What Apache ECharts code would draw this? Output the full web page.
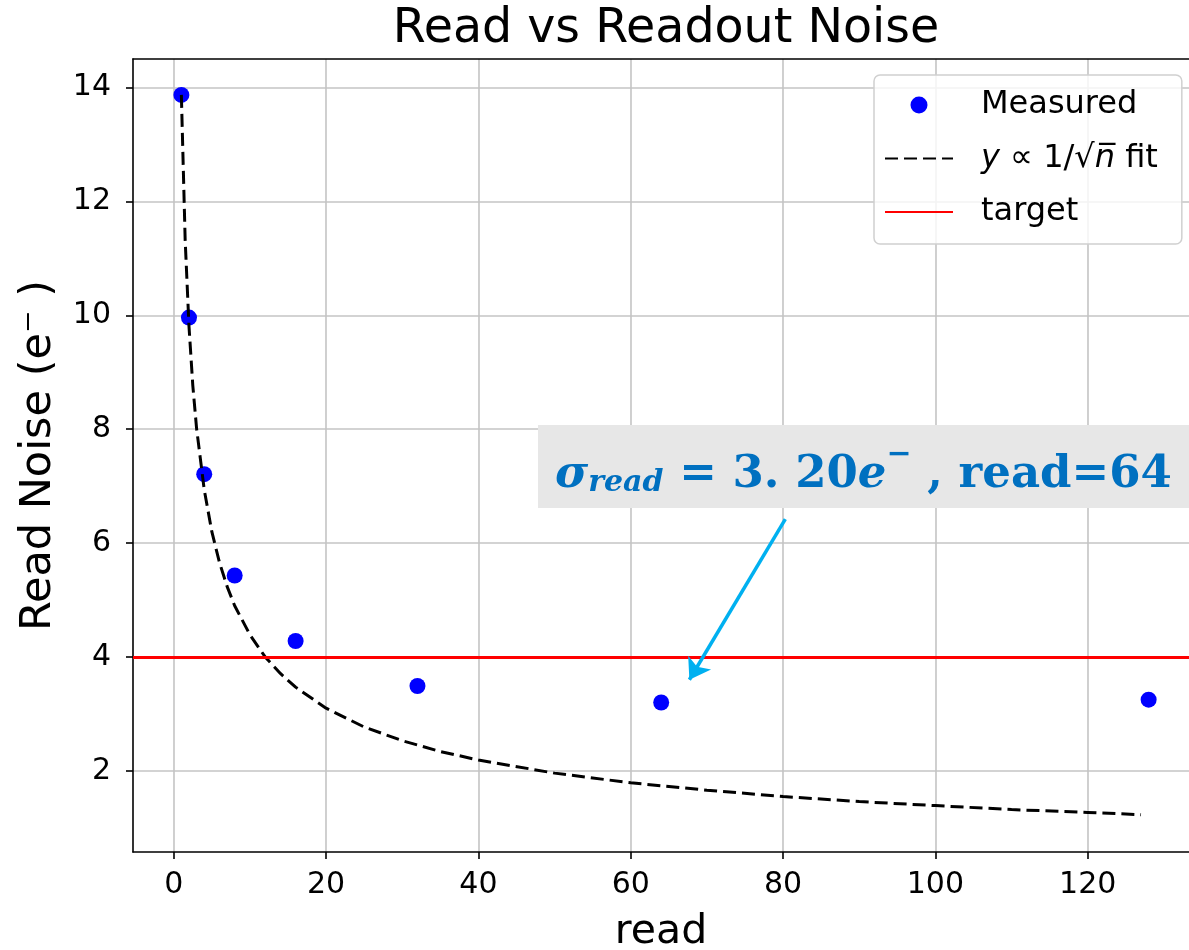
<!DOCTYPE html>
<html><head><meta charset="utf-8">
<script src="https://cdn.jsdelivr.net/npm/echarts@6/dist/echarts.min.js"></script>
<style>html,body{margin:0;padding:0;background:#fff}#c{width:1189px;height:950px}</style>
</head><body><div id="c"></div>
<script>
// ---- data ----
const reads = [1, 2, 4, 8, 16, 32, 64, 128];
const measuredNoise = [13.87, 9.96, 7.21, 5.43, 4.28, 3.49, 3.20, 3.25];
const fitReads = [1, 1.5, 2, 2.5, 3, 4, 5, 6, 7, 8, 10, 12, 14, 16, 20, 25, 30, 35, 40, 50, 60, 70, 80, 90, 100, 110, 120, 127];
const fitNoise = [13.87, 11.32, 9.81, 8.77, 8.01, 6.94, 6.20, 5.66, 5.24, 4.90, 4.39, 4.00, 3.71, 3.47, 3.10, 2.77, 2.53, 2.34, 2.19, 1.96, 1.79, 1.66, 1.55, 1.46, 1.39, 1.32, 1.27, 1.23];
const targetNoise = 4;
const xTicks = [0, 20, 40, 60, 80, 100, 120];
const yTicks = [2, 4, 6, 8, 10, 12, 14];
const arrowFrom = [80.3, 6.42];
const arrowTo = [67.7, 3.60];
const seriesNames = ['Measured', 'y ∝ 1/√n fit', 'target'];

const chart = echarts.init(document.getElementById('c'), null, {renderer: 'canvas'});
const blue = '#0070c0';
const FONT = 'DejaVu Sans';
const SERIF = 'DejaVu Serif';
const X_MIN = -5.35, X_MAX = 133.3, Y_MIN = 0.575, Y_MAX = 14.5;

chart.setOption({
  animation: false,
  backgroundColor: '#fff',
  title: {
    text: 'Read vs Readout Noise', left: 661, top: 1, textAlign: 'center',
    textStyle: {fontFamily: FONT, fontSize: 47.5, fontWeight: 'normal', color: '#000'}
  },
  grid: {left: 133, top: 59, right: 0, bottom: 98, outerBoundsMode: 'none', containLabel: false},
  legend: {
    orient: 'vertical', left: 874, top: 75,
    itemWidth: 68, itemHeight: 17, itemGap: 17.5,
    padding: [12, 24, 14, 10],
    backgroundColor: 'rgba(255,255,255,0.8)', borderColor: '#d0d0d0', borderWidth: 1.5, borderRadius: 6,
    textStyle: {fontFamily: FONT, fontSize: 32, color: '#000', lineHeight: 36, padding: [0, 0, 0, 23],
      rich: {it: {fontFamily: FONT, fontStyle: 'italic', fontSize: 32, lineHeight: 36, color: '#000'},
             t: {fontFamily: FONT, fontSize: 32, lineHeight: 36, color: '#000'}}},
    formatter: function (name) {
      if (name === seriesNames[1]) return '{it|y}{t| ∝ 1/√}{it|n\u0305}{t| fit}';
      return name;
    },
    data: [
      {name: seriesNames[0], icon: 'circle'},
      {name: seriesNames[1], itemStyle: {opacity: 0}},
      {name: seriesNames[2], itemStyle: {opacity: 0}}
    ]
  },
  xAxis: [{
    type: 'value', min: X_MIN, max: X_MAX,
    name: 'read', nameLocation: 'middle', nameGap: 60,
    nameTextStyle: {fontFamily: FONT, fontSize: 41, color: '#000'},
    axisLine: {onZero: false, lineStyle: {color: '#000', width: 1.6}},
    axisTick: {show: true, customValues: xTicks, length: 7, lineStyle: {color: '#000', width: 1.6}},
    axisLabel: {customValues: xTicks, fontFamily: FONT, fontSize: 30, color: '#000', margin: 18},
    splitLine: {show: true, lineStyle: {color: '#c4c4c4', width: 1.6}}
  }, {
    type: 'value', position: 'top', min: X_MIN, max: X_MAX,
    axisLine: {show: true, onZero: false, lineStyle: {color: '#000', width: 1.6}},
    axisTick: {show: false}, axisLabel: {show: false}, splitLine: {show: false}
  }],
  yAxis: {
    type: 'value', min: Y_MIN, max: Y_MAX,
    name: 'Read Noise (e⁻ )', nameLocation: 'middle', nameGap: 73, nameRotate: 90,
    nameTextStyle: {fontFamily: FONT, fontSize: 43, color: '#000'},
    axisLine: {onZero: false, lineStyle: {color: '#000', width: 1.6}},
    axisTick: {show: true, customValues: yTicks, length: 7, lineStyle: {color: '#000', width: 1.6}},
    axisLabel: {customValues: yTicks, fontFamily: FONT, fontSize: 30, color: '#000', margin: 22},
    splitLine: {show: true, lineStyle: {color: '#c4c4c4', width: 1.6}}
  },
  series: [
    {
      name: seriesNames[0], type: 'scatter', z: 3,
      data: reads.map((r, i) => [r, measuredNoise[i]]),
      symbol: 'circle', symbolSize: 16, itemStyle: {color: '#0000ff', opacity: 1}
    },
    {
      name: seriesNames[1], type: 'line', z: 4,
      data: fitReads.map((r, i) => [r, fitNoise[i]]),
      symbol: 'none', showSymbol: false,
      lineStyle: {color: '#000', width: 3, type: [13, 6]}, itemStyle: {color: '#000'}
    },
    {
      name: seriesNames[2], type: 'line', z: 5, data: [],
      symbol: 'none', lineStyle: {color: '#ff0000', width: 3}, itemStyle: {color: '#ff0000'},
      markLine: {silent: true, symbol: 'none', label: {show: false},
        lineStyle: {color: '#ff0000', width: 3, type: 'solid'},
        data: [{yAxis: targetNoise}]}
    },
    {
      name: 'annotation', type: 'line', z: 6, data: [],
      markLine: {silent: true, symbol: ['none', 'arrow'], symbolSize: 20, label: {show: false},
        lineStyle: {color: '#00b0f0', width: 3.5, type: 'solid'},
        data: [[{coord: arrowFrom}, {coord: arrowTo}]]}
    }
  ],
  graphic: [
    {type: 'rect', z: 100, shape: {x: 538, y: 425, width: 670, height: 83}, style: {fill: '#e7e7e7'}},
    {type: 'text', z: 101, x: 555, y: 469,
      style: {
        text: '{s|σ}{sub|read}{m| = 3. 20}{s|e}{sup|−}{m| , read=64}',
        verticalAlign: 'middle', align: 'left',
        rich: {
          s: {fontFamily: SERIF, fontStyle: 'italic', fontWeight: 'bold', fontSize: 45, lineHeight: 58, verticalAlign: 'bottom', fill: blue, color: blue},
          sub: {fontFamily: SERIF, fontStyle: 'italic', fontWeight: 'bold', fontSize: 30, lineHeight: 24, verticalAlign: 'bottom', fill: blue, color: blue},
          m: {fontFamily: SERIF, fontWeight: 'bold', fontSize: 45, lineHeight: 58, verticalAlign: 'bottom', fill: blue, color: blue},
          sup: {fontFamily: SERIF, fontWeight: 'bold', fontSize: 30, lineHeight: 38, verticalAlign: 'top', fill: blue, color: blue}
        }
      }}
  ]
});
</script></body></html>
